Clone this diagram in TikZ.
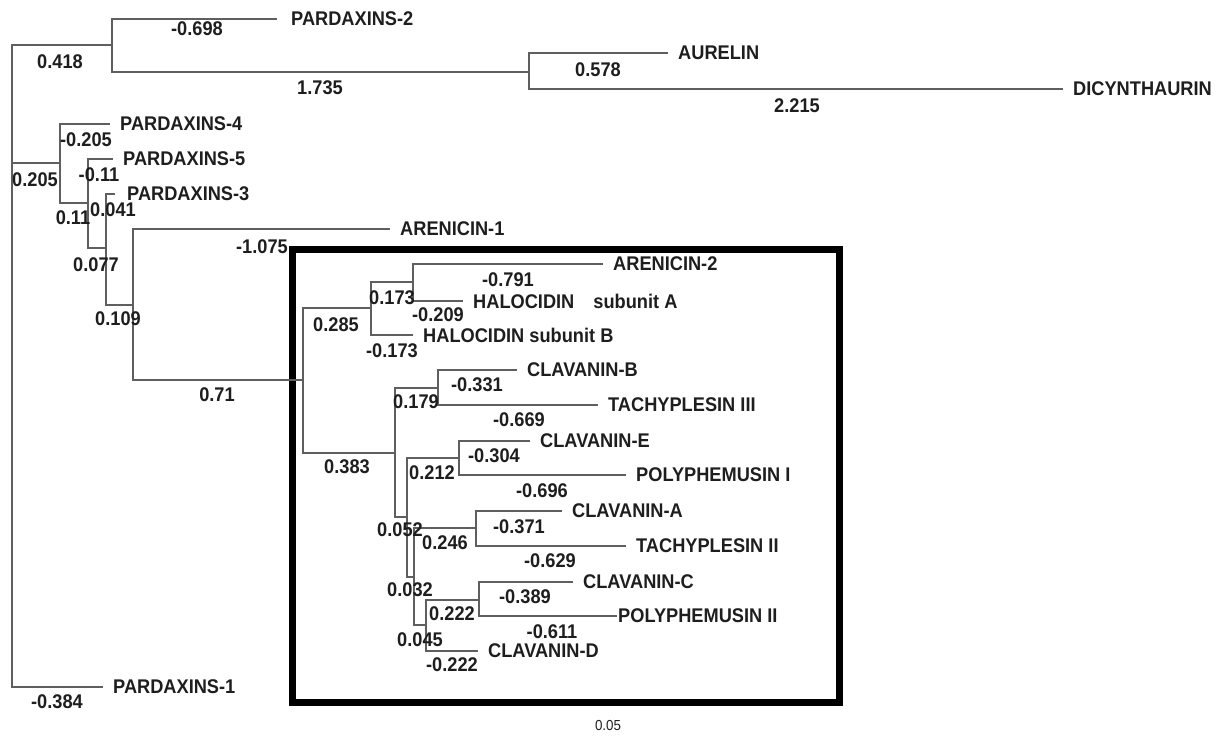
\documentclass[tikz,border=0pt]{standalone}
\usepackage{fontspec}
\setmainfont{Liberation Sans}[FakeStretch=0.92]
\definecolor{TreeGrey}{RGB}{95,95,95}
\definecolor{TreeInk}{RGB}{30,30,30}

\begin{document}
\begin{tikzpicture}[x=1pt,y=-1pt,
    leaf/.style={anchor=west,inner xsep=10pt,inner ysep=0pt,text=TreeInk,font=\fontsize{19.8}{21}\selectfont\bfseries},
    blen/.style={inner sep=0pt,text=TreeInk,font=\fontsize{19.8}{21}\selectfont\bfseries},
    br/.style={draw=TreeGrey,line width=1.3pt},
    frame/.style={draw=black,line width=7pt}
  ]
  \useasboundingbox (0,0) rectangle (1222,736);

  % boxed clade
  \draw[frame] (292,249) rectangle (839,702);

  % inner nodes
  \coordinate (root) at (12,163);
  \coordinate (n1) at (112,45);
  \coordinate (n2) at (529,72);
  \coordinate (n3) at (60,163);
  \coordinate (n4) at (88,203);
  \coordinate (n5) at (106,248);
  \coordinate (n6) at (133,305);
  \coordinate (n7) at (303,380);
  \coordinate (n8) at (371,308);
  \coordinate (n9) at (413,282);
  \coordinate (n10) at (395,453);
  \coordinate (n11) at (438,388);
  \coordinate (n12) at (407,517);
  \coordinate (n13) at (414,577);
  \coordinate (n14) at (426,625);
  \coordinate (n15) at (479,600);
  \coordinate (n16) at (476,528);
  \coordinate (n17) at (459,458);

  % taxa
  \node[leaf,inner xsep=14pt] (pard2) at (277,19) {PARDAXINS-2};
  \node[leaf] (aurelin) at (668,53) {AURELIN};
  \node[leaf] (dicyn) at (1063,89) {DICYNTHAURIN};
  \node[leaf] (pard4) at (110,124) {PARDAXINS-4};
  \node[leaf] (pard5) at (113,159) {PARDAXINS-5};
  \node[leaf,inner xsep=12pt] (pard3) at (115,194) {PARDAXINS-3};
  \node[leaf] (aren1) at (390,229) {ARENICIN-1};
  \node[leaf] (pard1) at (103,687) {PARDAXINS-1};
  \node[leaf] (aren2) at (603,264) {ARENICIN-2};
  \node[leaf] (haloa) at (463,301) {HALOCIDIN\hspace*{14pt} subunit A};
  \node[leaf] (halob) at (413,335) {HALOCIDIN subunit B};
  \node[leaf] (clavb) at (517,370) {CLAVANIN-B};
  \node[leaf] (tachy3) at (598,405) {TACHYPLESIN III};
  \node[leaf] (clave) at (530,441) {CLAVANIN-E};
  \node[leaf] (poly1) at (626,475) {POLYPHEMUSIN I};
  \node[leaf] (clava) at (562,511) {CLAVANIN-A};
  \node[leaf] (tachy2) at (626,546) {TACHYPLESIN II};
  \node[leaf] (clavc) at (573,582) {CLAVANIN-C};
  \node[leaf,inner xsep=1pt] (poly2) at (617,616) {POLYPHEMUSIN II};
  \node[leaf] (clavd) at (478,651) {CLAVANIN-D};

  % branches
  \draw[br] (root) |- (n1);
  \draw[br] (root) |- (n3);
  \draw[br] (root) |- (pard1.west);
  \draw[br] (n1) |- (pard2.west);
  \draw[br] (n1) |- (n2);
  \draw[br] (n2) |- (aurelin.west);
  \draw[br] (n2) |- (dicyn.west);
  \draw[br] (n3) |- (pard4.west);
  \draw[br] (n3) |- (n4);
  \draw[br] (n4) |- (pard5.west);
  \draw[br] (n4) |- (n5);
  \draw[br] (n5) |- (pard3.west);
  \draw[br] (n5) |- (n6);
  \draw[br] (n6) |- (aren1.west);
  \draw[br] (n6) |- (n7);
  \draw[br] (n7) |- (n8);
  \draw[br] (n7) |- (n10);
  \draw[br] (n8) |- (n9);
  \draw[br] (n8) |- (halob.west);
  \draw[br] (n9) |- (aren2.west);
  \draw[br] (n9) |- (haloa.west);
  \draw[br] (n10) |- (n11);
  \draw[br] (n10) |- (n12);
  \draw[br] (n11) |- (clavb.west);
  \draw[br] (n11) |- (tachy3.west);
  \draw[br] (n12) |- (n17);
  \draw[br] (n12) |- (n13);
  \draw[br] (n17) |- (clave.west);
  \draw[br] (n17) |- (poly1.west);
  \draw[br] (n13) |- (n16);
  \draw[br] (n13) |- (n14);
  \draw[br] (n16) |- (clava.west);
  \draw[br] (n16) |- (tachy2.west);
  \draw[br] (n14) |- (n15);
  \draw[br] (n14) |- (clavd.west);
  \draw[br] (n15) |- (clavc.west);
  \draw[br] (n15) |- (poly2.west);

  % branch lengths
  \node[blen] (l-n1) at (60,62) {0.418};
  \node[blen] (l-pard2) at (197,29) {-0.698};
  \node[blen] (l-n2) at (320,88) {1.735};
  \node[blen] (l-aurelin) at (598,70) {0.578};
  \node[blen] (l-dicyn) at (797,106) {2.215};
  \node[blen] (l-pard4) at (86,140) {-0.205};
  \node[blen] (l-n3) at (35,180) {0.205};
  \node[blen] (l-pard5) at (99,175) {-0.11};
  \node[blen] (l-n4) at (73,218) {0.11};
  \node[blen] (l-pard3) at (113,210) {0.041};
  \node[blen] (l-n5) at (96,265) {0.077};
  \node[blen] (l-n6) at (118,319) {0.109};
  \node[blen] (l-aren1) at (262,247) {-1.075};
  \node[blen] (l-n7) at (217,395) {0.71};
  \node[blen] (l-pard1) at (57,702) {-0.384};
  \node[blen] (l-n8) at (336,325) {0.285};
  \node[blen] (l-n9) at (392,298) {0.173};
  \node[blen] (l-aren2) at (508,280) {-0.791};
  \node[blen] (l-haloa) at (438,315) {-0.209};
  \node[blen] (l-halob) at (392,351) {-0.173};
  \node[blen] (l-n10) at (347,467) {0.383};
  \node[blen] (l-n11) at (416,402) {0.179};
  \node[blen] (l-clavb) at (477,385) {-0.331};
  \node[blen] (l-tachy3) at (519,420) {-0.669};
  \node[blen] (l-clave) at (494,456) {-0.304};
  \node[blen] (l-n17) at (432,473) {0.212};
  \node[blen] (l-poly1) at (542,491) {-0.696};
  \node[blen] (l-n12) at (400,530) {0.052};
  \node[blen] (l-clava) at (519,527) {-0.371};
  \node[blen] (l-n16) at (445,543) {0.246};
  \node[blen] (l-tachy2) at (550,561) {-0.629};
  \node[blen] (l-n13) at (410,590) {0.032};
  \node[blen] (l-clavc) at (525,597) {-0.389};
  \node[blen] (l-n15) at (452,614) {0.222};
  \node[blen] (l-poly2) at (552,632) {-0.611};
  \node[blen] (l-n14) at (420,640) {0.045};
  \node[blen] (l-clavd) at (452,665) {-0.222};

  % scale
  \node[blen,font=\fontsize{14.5}{15}\selectfont] (scale) at (608,725) {0.05};
\end{tikzpicture}
\end{document}
